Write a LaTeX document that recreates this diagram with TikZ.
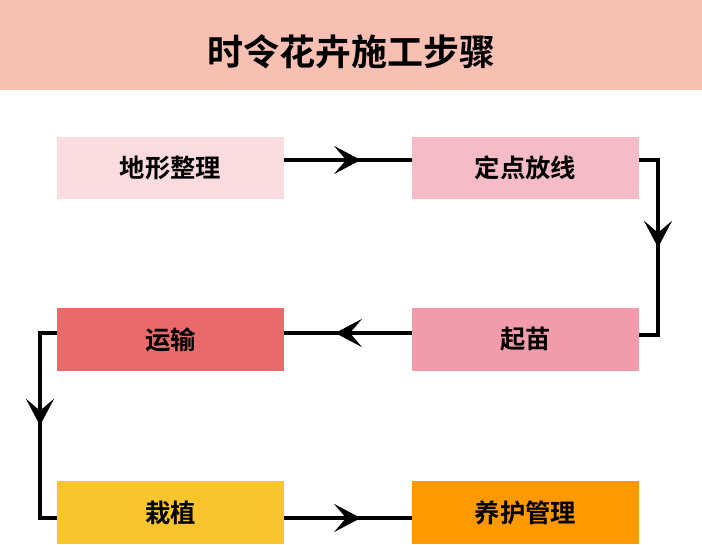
\documentclass[tikz,border=0pt]{standalone}
\usepackage{fontspec}
\setmainfont{Noto Sans CJK SC}[BoldFont={Noto Sans CJK SC Bold}]
\usetikzlibrary{positioning,arrows.meta,decorations.markings}
\definecolor{titlebg}{HTML}{F7C0B3}
\definecolor{cA}{HTML}{FADCE0}
\definecolor{cB}{HTML}{F5BCC8}
\definecolor{cC}{HTML}{F29BAA}
\definecolor{cD}{HTML}{E96A6A}
\definecolor{cE}{HTML}{F8C52E}
\definecolor{cF}{HTML}{FF9900}
\tikzset{
  stepbox/.style={minimum width=170pt,minimum height=47pt,inner sep=0pt,font=\bfseries\fontsize{19}{21}\selectfont},
  flow/.style={line width=3pt,postaction={decorate},decoration={markings,
    mark=at position #1 with {\arrow{Stealth[length=20pt,width=21pt,inset=9pt]}}}},
  flow/.default=0.5
}
\begin{document}
\begin{tikzpicture}[x=0.75pt,y=-0.75pt]
  \useasboundingbox (0,0) rectangle (702,545);
  %title
  \fill[titlebg] (0,0) rectangle (702,90);
  \node (title) at (351,52) {\bfseries\fontsize{27}{30}\selectfont 时令花卉施工步骤};

  %steps
  \node[stepbox,fill=cA] (s1) at (170.5,168) {地形整理};
  \node[stepbox,fill=cB] (s2) at (525.5,168) {定点放线};
  \node[stepbox,fill=cC] (s3) at (525.5,339.5) {起苗};
  \node[stepbox,fill=cD] (s4) at (170.5,339.5) {运输};
  \node[stepbox,fill=cE] (s5) at (170.5,512.5) {栽植};
  \node[stepbox,fill=cF] (s6) at (525.5,512.5) {养护管理};

  %connectors
  \draw[flow=0.6] (s1.east|-0,160) -- (s2.west|-0,160);
  \draw[flow] (s2.east|-0,160) -- (658,160) -- (658,335) -- (s3.east|-0,335);
  \draw[flow=0.6] (s3.west|-0,333) -- (s4.east|-0,333);
  \draw[flow] (s4.west|-0,333) -- (40,333) -- (40,518) -- (s5.west|-0,518);
  \draw[flow=0.6] (s5.east|-0,518) -- (s6.west|-0,518);
\end{tikzpicture}
\end{document}
